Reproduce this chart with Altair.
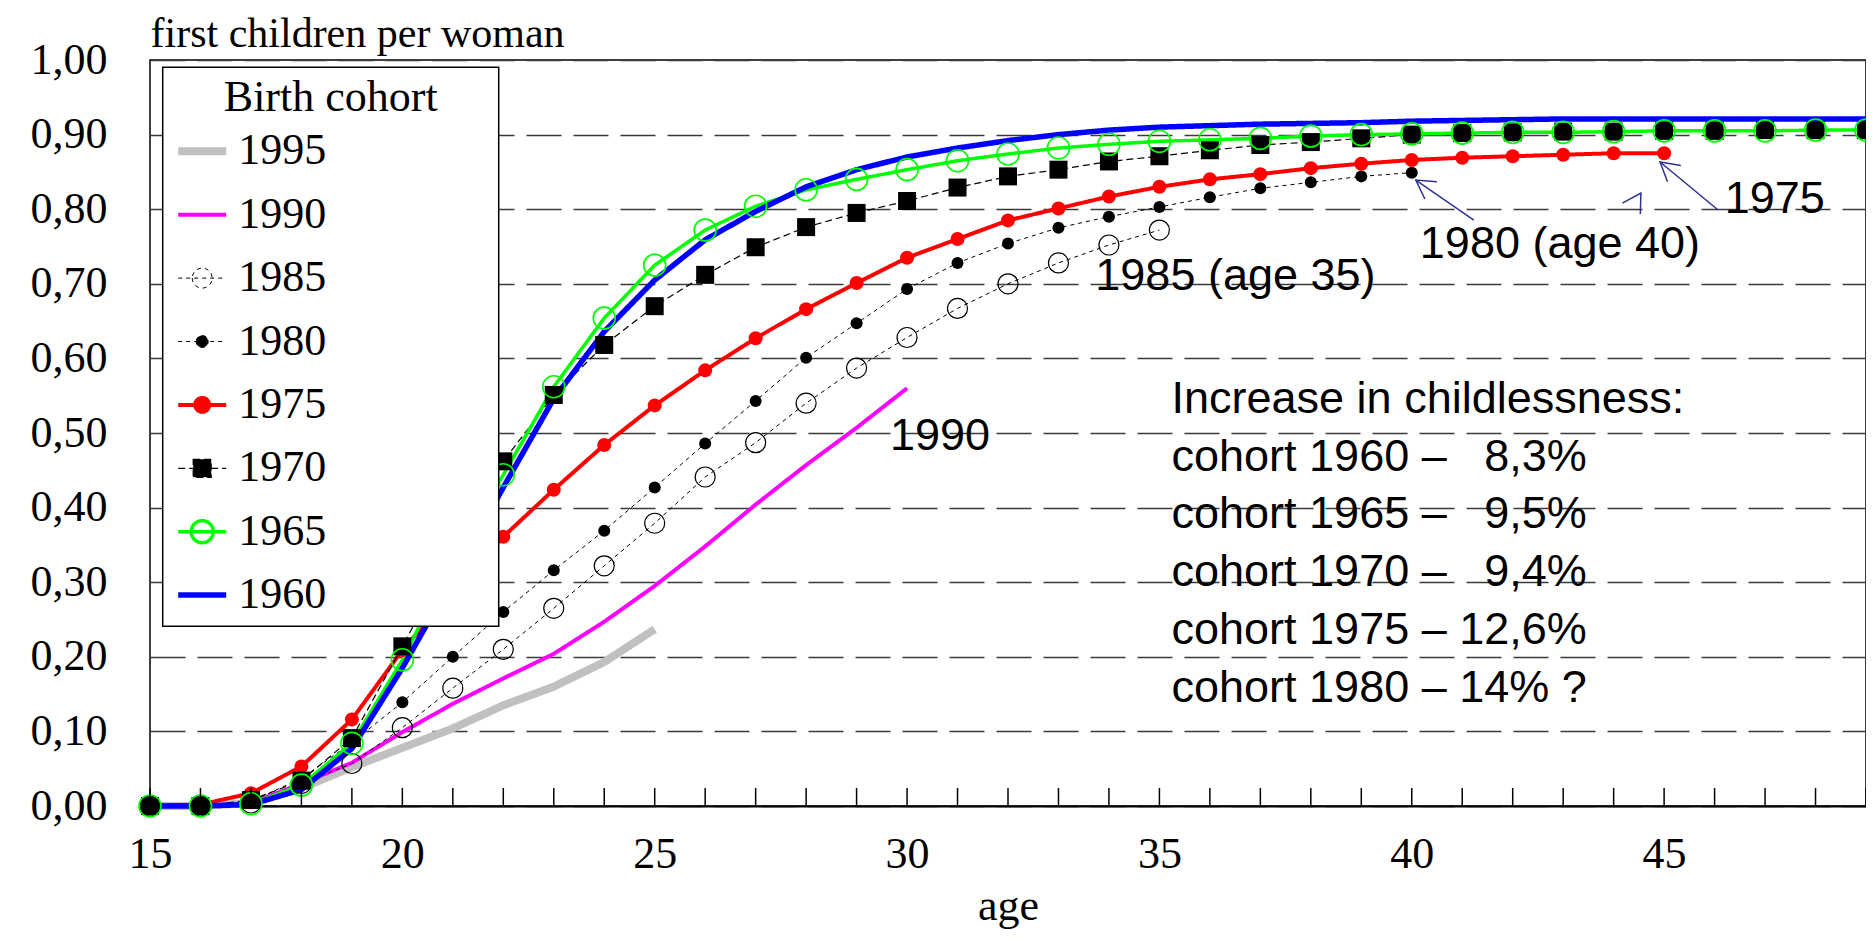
import altair as alt
import pandas as pd

SERIF = "Liberation Serif"
SANS = "Liberation Sans"
NAVY = "#2e3192"

# ---------------- data ----------------
ages = list(range(15, 50))
cohorts = ["1995", "1990", "1985", "1980", "1975", "1970", "1965", "1960"]

v1995 = [0.000, 0.000, 0.004, 0.024, 0.052, 0.078, 0.104, 0.135, 0.160, 0.193, 0.237]
v1990 = [0.000, 0.000, 0.004, 0.030, 0.058, 0.099, 0.137, 0.171, 0.204, 0.247,
         0.295, 0.348, 0.404, 0.457, 0.507, 0.560]
v1985 = [0.000, 0.000, 0.004, 0.030, 0.057, 0.105, 0.158, 0.210, 0.265, 0.322,
         0.379, 0.441, 0.487, 0.540, 0.587, 0.628, 0.667, 0.700, 0.728, 0.752, 0.772]
v1980 = [0.000, 0.000, 0.006, 0.037, 0.085, 0.139, 0.200, 0.260, 0.316, 0.369,
         0.427, 0.486, 0.543, 0.601, 0.647, 0.693, 0.728, 0.754, 0.775, 0.790,
         0.803, 0.816, 0.828, 0.836, 0.844, 0.849]
v1975 = [0.000, 0.002, 0.017, 0.053, 0.116, 0.209, 0.287, 0.361, 0.424, 0.484,
         0.537, 0.584, 0.627, 0.666, 0.701, 0.735, 0.760, 0.785, 0.801, 0.817,
         0.830, 0.840, 0.847, 0.855, 0.861, 0.866, 0.869, 0.871, 0.873, 0.875, 0.875]
v1970 = [0.000, 0.000, 0.008, 0.034, 0.091, 0.214, 0.340, 0.462, 0.551, 0.618,
         0.670, 0.712, 0.749, 0.776, 0.795, 0.811, 0.829, 0.844, 0.853, 0.864,
         0.871, 0.879, 0.886, 0.890, 0.895, 0.900, 0.902, 0.903, 0.904, 0.904,
         0.905, 0.905, 0.906, 0.906, 0.906]
v1965 = [0.000, 0.000, 0.003, 0.028, 0.084, 0.196, 0.330, 0.444, 0.562, 0.654,
         0.725, 0.772, 0.804, 0.826, 0.840, 0.853, 0.865, 0.874, 0.882, 0.887,
         0.891, 0.893, 0.895, 0.898, 0.900, 0.901, 0.902, 0.903, 0.903, 0.904,
         0.905, 0.905, 0.905, 0.906, 0.906]
v1960 = [0.000, 0.000, 0.002, 0.022, 0.077, 0.185, 0.305, 0.427, 0.546, 0.636,
         0.705, 0.759, 0.797, 0.830, 0.853, 0.870, 0.882, 0.892, 0.900, 0.906,
         0.910, 0.912, 0.914, 0.915, 0.916, 0.918, 0.919, 0.920, 0.921, 0.921,
         0.921, 0.921, 0.921, 0.921, 0.921]

series = {"1995": v1995, "1990": v1990, "1985": v1985, "1980": v1980,
          "1975": v1975, "1970": v1970, "1965": v1965, "1960": v1960}

x_tick_labels = [15, 20, 25, 30, 35, 40, 45]
y_ticks = [i / 10 for i in range(11)]

# annotations (data coordinates: age, share)
ann_text = [
    "1990",
    "1985 (age 35)",
    "1980 (age 40)",
    "1975",
    "Increase in childlessness:\ncohort 1960 \u2013 \u00a0\u00a08,3%\ncohort 1965 \u2013 \u00a0\u00a09,5%\n"
    "cohort 1970 \u2013 \u00a0\u00a09,4%\ncohort 1975 \u2013 12,6%\ncohort 1980 \u2013 14% ?",
]
ann_age = [29.66, 33.73, 40.16, 46.20, 35.24]
ann_value = [0.477, 0.692, 0.735, 0.795, 0.527]

arrow_from_age = [41.23, 46.07]
arrow_from_value = [0.7855, 0.7989]
arrow_to_age = [40.08, 44.92]
arrow_to_value = [0.8391, 0.8633]
head_age = [40.08, 44.92, 44.54]
head_value = [0.8391, 0.8633, 0.8217]
head_angle = [304.6, 309.6, 31.5]

# ---------------- styles ----------------
line_colors = ["#c0c0c0", "#ff00ff", "#000000", "#000000", "#ff0000", "#000000", "#00ff00", "#0000ff"]
line_dashes = [[1, 0], [1, 0], [4, 4], [4, 4], [1, 0], [7, 4], [1, 0], [1, 0]]
line_widths = [8, 4, 1, 1, 4, 1.2, 3.5, 5.5]


def circ(r):
    return f"M{-r},0A{r},{r} 0 1,0 {r},0A{r},{r} 0 1,0 {-r},0Z"


def sq(h):
    return f"M{-h},{-h}H{h}V{h}H{-h}Z"


SEG = "M-2,0H2"
legend_shapes = [SEG, SEG, SEG + circ(0.83), SEG + circ(0.5), SEG + circ(0.58),
                 SEG + sq(0.75), SEG + circ(0.92), SEG]
legend_fills = ["transparent", "transparent", "transparent", "#000000", "#ff0000",
                "#000000", "transparent", "transparent"]

# marker style per cohort that has markers: (shape, filled, color, size, strokeWidth)
marker_styles = {
    "1985": ("circle", False, "#000000", 400, 1.2),
    "1980": ("circle", True, "#000000", 144, 1.0),
    "1975": ("circle", True, "#ff0000", 196, 1.0),
    "1970": ("square", True, "#000000", 324, 1.0),
    "1965": ("circle", False, "#00ff00", 484, 1.6),
}

# ---------------- tables ----------------
rows = []
for c in cohorts:
    for a, v in zip(ages, series[c]):
        rows.append({"age": a, "value": v, "cohort": c})
df = pd.DataFrame(rows)

df_ann = pd.DataFrame({"age": ann_age, "value": ann_value, "text": ann_text})
df_arr = pd.DataFrame({"age": arrow_from_age, "value": arrow_from_value,
                       "age2": arrow_to_age, "value2": arrow_to_value})
df_head = pd.DataFrame({"age": head_age, "value": head_value, "angle": head_angle})
df_ticks = pd.DataFrame({"age": ages, "value": [0.0] * len(ages)})

W, H = 1716, 746
xscale = alt.Scale(domain=[15, 49], nice=False, zero=False)
yscale = alt.Scale(domain=[0, 1], nice=False, zero=True)

xaxis = alt.Axis(values=x_tick_labels, title="age", grid=False, ticks=False, tickSize=0,
                 domain=True, domainColor="black", domainWidth=2,
                 labelFont=SERIF, labelFontSize=44, labelColor="black", labelPadding=61,
                 labelBaseline="alphabetic", labelFlush=False, labelOverlap=False,
                 titleFont=SERIF, titleFontSize=44, titleFontWeight="normal", titleColor="black",
                 titleBaseline="alphabetic", titleY=113)
yaxis = alt.Axis(values=y_ticks, labelExpr="replace(format(datum.value, '.2f'), '.', ',')",
                 grid=True, gridDash=[35, 12], gridColor="#3a3a3a", gridWidth=1.5,
                 ticks=False, tickSize=0, domain=False,
                 labelFont=SERIF, labelFontSize=44, labelColor="black", labelPadding=43,
                 labelFlush=False, labelOverlap=False,
                 title="first children per woman", titleAngle=0, titleAlign="left",
                 titleBaseline="alphabetic", titleX=0, titleY=-14,
                 titleFont=SERIF, titleFontSize=42, titleFontWeight="normal", titleColor="black")


def X():
    return alt.X("age:Q", scale=xscale, axis=xaxis)


def Y():
    return alt.Y("value:Q", scale=yscale, axis=yaxis)


# trailing zero-width char keeps the padding spaces (widens the legend box like the original)
PAD_EXPR = "datum.label + '" + "\u00a0" * 14 + "\u2009\u200b'"
LEG = alt.Legend(title="Birth cohort", orient="none", legendX=12.7, legendY=7.3,
                 direction="vertical", padding=9, symbolSize=576,
                 strokeColor="black", fillColor="white",
                 titleFont=SERIF, titleFontSize=44, titleFontWeight="normal", titleColor="black",
                 titleAnchor="middle", titlePadding=9, titleLimit=600,
                 labelFont=SERIF, labelFontSize=44, labelColor="black", labelLimit=600,
                 labelOffset=14.1, symbolOffset=8.5, rowPadding=19.4, labelExpr=PAD_EXPR)

# one line layer per cohort (drawn 1995 first ... 1960 on top)
line_layers = []
for i, c in enumerate(cohorts):
    line_layers.append(
        alt.Chart(df).transform_filter(alt.datum.cohort == c).mark_line(
            color=line_colors[i], strokeDash=line_dashes[i], strokeWidth=line_widths[i],
            strokeJoin="round"
        ).encode(x=X(), y=Y(), order="age:Q")
    )

marker_layers = []
for c, (shp, filled, col, sz, sw) in marker_styles.items():
    marker_layers.append(
        alt.Chart(df).transform_filter(alt.datum.cohort == c).mark_point(
            shape=shp, filled=filled, color=col, size=sz, strokeWidth=sw, opacity=1
        ).encode(x=X(), y=Y())
    )

# legend carrier: the same series shifted outside the axis range and clipped away
legend_layer = alt.Chart(df).transform_filter(alt.datum.age == 15).transform_calculate(
    age="datum.age - 100"
).mark_point(filled=True, opacity=1, clip=True).encode(
    x=X(), y=Y(),
    stroke=alt.Stroke("cohort:N", scale=alt.Scale(domain=cohorts, range=line_colors), legend=LEG),
    fill=alt.Fill("cohort:N", scale=alt.Scale(domain=cohorts, range=legend_fills), legend=LEG),
    shape=alt.Shape("cohort:N", scale=alt.Scale(domain=cohorts, range=legend_shapes), legend=LEG),
    strokeDash=alt.StrokeDash("cohort:N", scale=alt.Scale(domain=cohorts, range=line_dashes), legend=LEG),
    strokeWidth=alt.StrokeWidth("cohort:N", scale=alt.Scale(type="ordinal", domain=cohorts, range=line_widths),
                                legend=LEG),
)

ticks = alt.Chart(df_ticks).mark_rule(color="black", strokeWidth=1.5).encode(
    x=X(), y=Y(), y2=alt.value(H - 18),
)

arrows = alt.Chart(df_arr).mark_rule(color=NAVY, strokeWidth=1.5).encode(
    x=X(), y=Y(), x2="age2:Q", y2="value2:Q",
)

heads = alt.Chart(df_head).mark_point(shape="M-0.5,0.87L0,0L0.5,0.87", filled=False, color=NAVY,
                                      strokeWidth=1.5, size=1764, opacity=1).encode(
    x=X(), y=Y(), angle=alt.Angle("angle:Q", scale=None),
)

texts = alt.Chart(df_ann).mark_text(align="left", baseline="alphabetic", font=SANS, fontSize=45,
                                    color="black", lineBreak="\n", lineHeight=57.8).encode(
    x=X(), y=Y(), text="text:N",
)

chart = alt.layer(*line_layers, *marker_layers, legend_layer, ticks, arrows, heads, texts).properties(
    width=W, height=H,
    padding={"left": 142, "top": 52, "right": 0, "bottom": 124},
    autosize=alt.AutoSizeParams(type="none"),
    background="white",
).configure(font=SERIF).configure_view(stroke="black", strokeWidth=1.5).configure_legend(strokeWidth=1.5)

chart.save("out.html", embed_options={"renderer": "svg", "actions": False})
